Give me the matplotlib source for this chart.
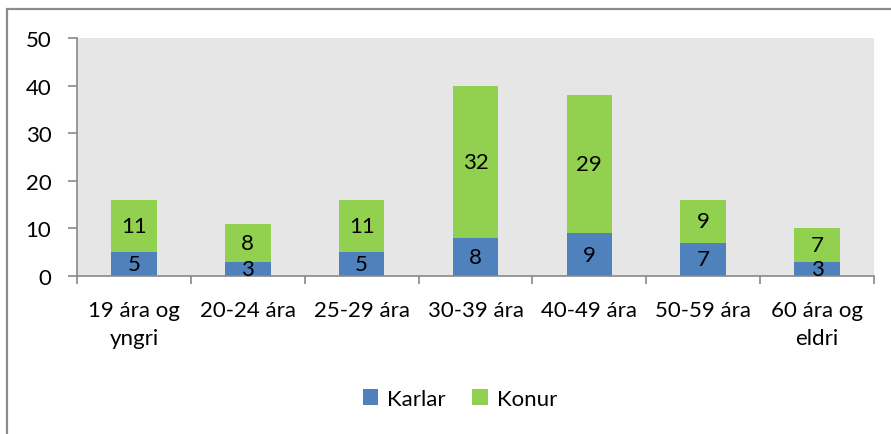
import matplotlib
matplotlib.use("Agg")
import matplotlib.pyplot as plt
from matplotlib.patches import Rectangle, Patch
import numpy as np

categories = ["19 ára og\nyngri", "20-24 ára", "25-29 ára", "30-39 ára", "40-49 ára", "50-59 ára", "60 ára og\neldri"]
karlar = [5, 3, 5, 8, 9, 7, 3]
konur = [11, 8, 11, 32, 29, 9, 7]
series_names = ["Karlar", "Konur"]
yticks = [0, 10, 20, 30, 40, 50]

blue = "#4F81BD"
green = "#92D050"
axis_gray = "#898989"

plt.rcParams['font.family'] = ['Lato', 'DejaVu Sans']
fs = 16

fig = plt.figure(figsize=(8.91, 4.35), dpi=100)
ax = fig.add_axes([77/891, 1-277/435, (874-77)/891, (277-39)/435])
ax.set_facecolor("#E6E6E6")

x = np.arange(len(categories))
w = 0.40
b1 = ax.bar(x, karlar, w, color=blue, label=series_names[0], zorder=2)
b2 = ax.bar(x, konur, w, bottom=karlar, color=green, label=series_names[1], zorder=2)
ax.bar_label(b1, labels=[str(v) for v in karlar], label_type='center', fontsize=fs, color='black')
ax.bar_label(b2, labels=[str(v) for v in konur], label_type='center', fontsize=fs, color='black')

ax.set_xlim(-0.5, len(categories)-0.5)
ax.set_ylim(0, 50)
ax.set_yticks(yticks)
ax.set_yticklabels([str(v) for v in yticks], fontsize=fs)
ax.set_xticks(x)
ax.set_xticklabels(categories, fontsize=fs, linespacing=1.5)
ax.set_xticks(np.arange(-0.5, len(categories), 1.0), minor=True)
ax.tick_params(axis='x', which='major', length=0, pad=17)
ax.tick_params(axis='x', which='minor', length=6, color=axis_gray, width=1.2)
ax.tick_params(axis='y', length=6.5, color=axis_gray, width=1.2, pad=12)
for s in ['top', 'right']:
    ax.spines[s].set_visible(False)
for s in ['left', 'bottom']:
    ax.spines[s].set_color(axis_gray)
    ax.spines[s].set_linewidth(1.2)

handles = [Patch(facecolor=blue), Patch(facecolor=green)]
fig.legend(handles, series_names, loc='center', bbox_to_anchor=(460/891, 1-400/435),
           ncol=2, frameon=False, fontsize=fs, handlelength=0.7, handleheight=0.7,
           handletextpad=0.4, columnspacing=1.2)

fig.patches.append(Rectangle((6.5/891, -0.1), 1.2, 1 - 9.5/435 + 0.1, transform=fig.transFigure,
                             fill=False, edgecolor="#8C8C8C", linewidth=1.6))

fig.savefig("out.png", dpi=100)
